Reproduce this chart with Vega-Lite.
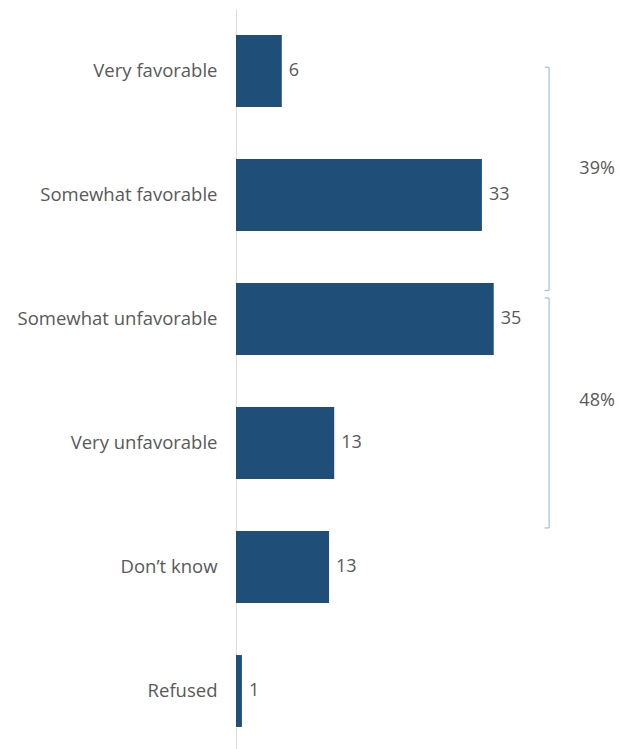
{
  "$schema": "https://vega.github.io/schema/vega-lite/v6.json",
  "autosize": "none",
  "padding": {"left": 236, "top": 9, "right": 0, "bottom": 0},
  "width": 384,
  "height": 744,
  "config": {
    "view": {"stroke": null},
    "font": "Open Sans",
    "text": {"font": "Open Sans"}
  },
  "datasets": {
    "responses": [
      {"category": "Very favorable", "value": 6.2},
      {"category": "Somewhat favorable", "value": 33.3},
      {"category": "Somewhat unfavorable", "value": 34.9},
      {"category": "Very unfavorable", "value": 13.3},
      {"category": "Don’t know", "value": 12.6},
      {"category": "Refused", "value": 0.8}
    ],
    "brackets": [
      {"group": "Favorable", "label": "39%", "from": 0.47, "to": 2.27, "mid": 1.29},
      {"group": "Unfavorable", "label": "48%", "from": 2.33, "to": 4.185, "mid": 3.16}
    ]
  },
  "layer": [
    {
      "data": {"name": "responses"},
      "layer": [
        {
          "mark": {"type": "bar", "color": "#1F4E79"},
          "encoding": {
            "y": {
              "field": "category", "type": "nominal", "sort": null,
              "scale": {"paddingInner": 0.42, "paddingOuter": 0.21},
              "axis": {
                "title": null, "ticks": false, "domainColor": "#DCDCDC", "domainWidth": 1,
                "labelColor": "#595959", "labelFontSize": 18.5, "labelPadding": 19,
                "labelFont": "Open Sans", "labelLimit": 300
              }
            },
            "x": {
              "field": "value", "type": "quantitative",
              "scale": {"domain": [0, 52], "nice": false},
              "axis": null
            }
          }
        },
        {
          "mark": {"type": "text", "align": "left", "baseline": "middle", "dx": 7, "fontSize": 18, "color": "#595959"},
          "encoding": {
            "y": {"field": "category", "type": "nominal", "sort": null},
            "x": {"field": "value", "type": "quantitative"},
            "text": {"field": "value", "type": "quantitative", "format": ".0f"}
          }
        }
      ]
    },
    {
      "data": {"name": "brackets"},
      "layer": [
        {
          "mark": {"type": "rule", "color": "#A7BED6", "strokeWidth": 1.2},
          "encoding": {
            "x": {"datum": 42.4},
            "y": {"field": "from", "type": "quantitative", "scale": {"domain": [0, 6], "reverse": true, "nice": false, "zero": false}, "axis": null},
            "y2": {"field": "to"}
          }
        },
        {
          "mark": {"type": "rule", "color": "#A7BED6", "strokeWidth": 1.2},
          "encoding": {
            "x": {"datum": 41.8},
            "x2": {"datum": 42.4},
            "y": {"field": "from", "type": "quantitative", "axis": null}
          }
        },
        {
          "mark": {"type": "rule", "color": "#A7BED6", "strokeWidth": 1.2},
          "encoding": {
            "x": {"datum": 41.8},
            "x2": {"datum": 42.4},
            "y": {"field": "to", "type": "quantitative", "axis": null}
          }
        },
        {
          "mark": {"type": "text", "align": "center", "baseline": "middle", "fontSize": 18, "color": "#595959"},
          "encoding": {
            "x": {"datum": 48.9},
            "y": {"field": "mid", "type": "quantitative", "axis": null},
            "text": {"field": "label", "type": "nominal"}
          }
        }
      ]
    }
  ],
  "resolve": {"scale": {"y": "independent"}}
}
